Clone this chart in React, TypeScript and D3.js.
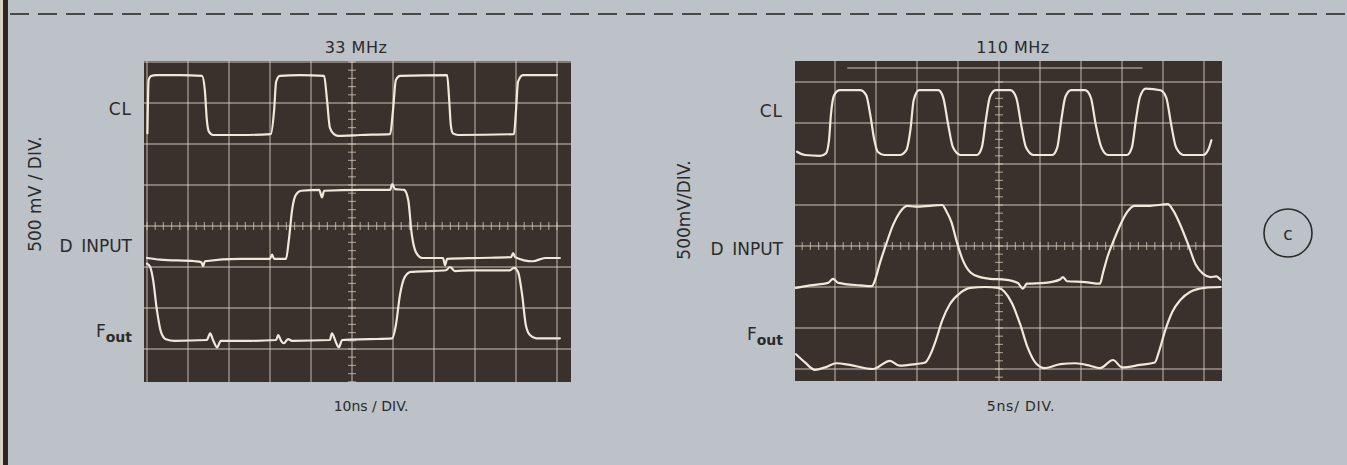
import React from "react";
import * as d3 from "d3";

// ---------- data (time in ns, level in volts about screen centre) ----------
const leftTitle = "33 MHz";
const rightTitle = "110 MHz";
const leftTimeLabel = "10ns / DIV.";
const rightTimeLabel = "5ns/ DIV.";
const leftVoltLabel = "500 mV / DIV.";
const rightVoltLabel = "500mV/DIV.";
const traceNames = ["CL", "D INPUT", "F"];

const leftCL: [number, number][] = [
  [0.1, 1.13], [0.4, 1.78], [1.0, 1.83], [2.2, 1.84], [8.0, 1.84], [13.4, 1.83],
  [14.1, 1.66], [14.6, 1.29], [15.1, 1.15], [16.1, 1.11], [22.7, 1.11], [30.2, 1.12],
  [31.0, 1.41], [31.5, 1.76], [32.4, 1.83], [37.3, 1.84], [43.2, 1.83], [43.9, 1.54],
  [44.6, 1.2], [45.6, 1.12], [46.6, 1.1], [52.0, 1.11], [59.3, 1.12], [60.0, 1.41],
  [60.7, 1.78], [61.7, 1.83], [73.2, 1.84], [73.7, 1.54], [74.1, 1.23], [74.6, 1.13],
  [75.9, 1.11], [89.5, 1.12], [90.0, 1.41], [90.5, 1.76], [91.7, 1.84], [100.0, 1.84],
];

const leftD: [number, number][] = [
  [0, -0.39], [3.2, -0.41], [11.7, -0.43], [13.2, -0.44], [13.7, -0.49], [14.1, -0.43],
  [22.7, -0.4], [30.0, -0.4], [30.5, -0.35], [31.0, -0.4], [33.9, -0.4], [34.6, -0.17],
  [35.4, 0.2], [36.3, 0.38], [37.6, 0.43], [42.0, 0.44], [42.7, 0.35], [43.2, 0.43],
  [52.0, 0.44], [59.3, 0.44], [59.8, 0.51], [60.5, 0.45], [62.7, 0.44], [63.7, 0.32],
  [64.6, -0.11], [65.6, -0.32], [67.1, -0.39], [72.2, -0.39], [72.7, -0.48], [73.2, -0.4],
  [81.2, -0.39], [88.8, -0.38], [89.3, -0.33], [89.8, -0.38], [94.1, -0.43], [97.1, -0.39],
  [100.7, -0.39],
];

const leftF: [number, number][] = [
  [0, -0.46], [0.7, -0.49], [1.5, -0.66], [2.4, -1.02], [3.4, -1.29], [4.6, -1.38],
  [6.8, -1.4], [14.6, -1.39], [15.4, -1.31], [16.1, -1.39], [17.1, -1.48], [18.0, -1.4],
  [25.1, -1.4], [31.5, -1.39], [32.0, -1.33], [32.7, -1.4], [33.4, -1.43], [34.4, -1.38],
  [35.4, -1.4], [44.6, -1.39], [45.1, -1.31], [46.1, -1.42], [46.8, -1.48], [47.6, -1.39],
  [54.4, -1.38], [59.8, -1.37], [60.7, -1.21], [61.7, -0.84], [62.9, -0.62], [64.4, -0.56],
  [69.0, -0.55], [72.9, -0.54], [73.9, -0.5], [75.1, -0.55], [78.8, -0.54], [88.5, -0.54],
  [89.5, -0.51], [90.5, -0.56], [91.5, -0.84], [92.4, -1.21], [93.4, -1.33], [94.9, -1.37],
  [100.7, -1.37],
];

const rightCL: [number, number][] = [
  [0.37, 1.15], [1.34, 1.11], [3.17, 1.1], [3.9, 1.13], [4.27, 1.29], [4.5, 1.6],
  [4.9, 1.84], [5.6, 1.9], [8.05, 1.9], [8.8, 1.84], [9.3, 1.6], [9.8, 1.29],
  [10.2, 1.15], [11.0, 1.11], [12.9, 1.11], [13.7, 1.17], [14.2, 1.42], [14.6, 1.78],
  [15.25, 1.9], [17.6, 1.9], [18.2, 1.81], [18.8, 1.48], [19.4, 1.2], [20.3, 1.11],
  [22.3, 1.11], [22.9, 1.2], [23.4, 1.54], [23.9, 1.82], [24.6, 1.9], [26.4, 1.9],
  [27.1, 1.81], [27.7, 1.48], [28.3, 1.2], [29.2, 1.11], [31.5, 1.11], [32.1, 1.2],
  [32.6, 1.54], [33.1, 1.82], [33.8, 1.9], [35.5, 1.9], [36.2, 1.81], [36.8, 1.48],
  [37.5, 1.2], [38.3, 1.11], [40.6, 1.11], [41.2, 1.2], [41.7, 1.54], [42.2, 1.82],
  [42.9, 1.92], [44.7, 1.9], [45.4, 1.81], [46.0, 1.48], [46.6, 1.2], [47.5, 1.11],
  [49.9, 1.11], [50.5, 1.17], [50.9, 1.29],
];

const rightD: [number, number][] = [
  [0.24, -0.51], [1.95, -0.48], [4.15, -0.45], [4.76, -0.4], [5.4, -0.45], [8.05, -0.48],
  [9.5, -0.49], [9.9, -0.41], [10.5, -0.2], [11.2, 0.01], [12.1, 0.26], [12.9, 0.41],
  [13.8, 0.49], [14.8, 0.48], [16.6, 0.49], [18.1, 0.5], [18.5, 0.44], [19.2, 0.29],
  [19.8, 0.07], [20.5, -0.15], [21.5, -0.32], [22.7, -0.38], [23.9, -0.4], [25.7, -0.41],
  [27.3, -0.45], [27.9, -0.52], [28.4, -0.46], [30.6, -0.45], [32.4, -0.41], [32.8, -0.38],
  [33.3, -0.43], [35.5, -0.44], [37.3, -0.46], [37.7, -0.32], [38.3, -0.11], [39.0, 0.07],
  [39.8, 0.26], [40.6, 0.41], [41.5, 0.49], [43.4, 0.49], [45.6, 0.51], [46.2, 0.44],
  [47.1, 0.26], [48.1, 0.01], [49.0, -0.23], [49.9, -0.34], [50.8, -0.38], [51.5, -0.37],
  [52.0, -0.41],
];

const rightF: [number, number][] = [
  [0.24, -1.32], [1.34, -1.42], [2.56, -1.51], [3.8, -1.48], [5.2, -1.43], [6.8, -1.45],
  [9.6, -1.5], [11.7, -1.4], [12.9, -1.46], [14.8, -1.44], [16.0, -1.42], [16.6, -1.33],
  [17.3, -1.15], [18.1, -0.9], [19.0, -0.71], [20.3, -0.57], [21.5, -0.51], [23.3, -0.5],
  [24.9, -0.51], [25.7, -0.56], [26.6, -0.7], [27.6, -0.96], [28.5, -1.24], [29.5, -1.43],
  [30.6, -1.49], [32.5, -1.44], [34.3, -1.43], [36.1, -1.46], [37.3, -1.49], [38.9, -1.39],
  [40.0, -1.48], [42.2, -1.45], [44.0, -1.42], [44.5, -1.29], [45.3, -1.02], [46.1, -0.81],
  [47.1, -0.66], [48.3, -0.56], [50.1, -0.51], [52.0, -0.5],
];

// ---------- styling ----------
const PAPER = "#bcc2c8";
const SCREEN = "#3b312c";
const GRID = "rgba(225,212,198,0.6)";
const TRACE = "#f1e8dc";
const INK = "#2b2b2b";
const FONT = "'DejaVu Sans', 'Liberation Sans', sans-serif";

type ScopeProps = {
  id: string;
  rect: { x0: number; x1: number; y0: number; y1: number };
  tMax: number;
  xRange: [number, number];
  yRange: [number, number];
  traces: [number, number][][];
  faintTop?: boolean;
};

function Scope({ id, rect, tMax, xRange, yRange, traces, faintTop }: ScopeProps) {
  const x = d3.scaleLinear().domain([0, tMax]).range(xRange);
  const y = d3.scaleLinear().domain([-2, 2]).range(yRange);
  const gen = d3
    .line<[number, number]>()
    .x((d) => x(d[0]))
    .y((d) => y(d[1]))
    .curve(d3.curveMonotoneX);
  const xDivs = d3.range(0, 11).map((k) => (tMax / 10) * k);
  const yDivs = d3.range(-2, 2.01, 0.5);
  const xMinor = d3.range(0, 51).map((k) => (tMax / 50) * k);
  const yMinor = d3.range(-2, 2.001, 0.1);
  const cx = x(tMax / 2);
  const cy = y(0);
  return (
    <g>
      <defs>
        <clipPath id={id}>
          <rect x={rect.x0} y={rect.y0} width={rect.x1 - rect.x0} height={rect.y1 - rect.y0} />
        </clipPath>
      </defs>
      <rect x={rect.x0} y={rect.y0} width={rect.x1 - rect.x0} height={rect.y1 - rect.y0} fill={SCREEN} />
      <g clipPath={`url(#${id})`}>
        {xDivs.map((t, i) => (
          <line key={"vx" + i} x1={x(t)} x2={x(t)} y1={rect.y0} y2={rect.y1} stroke={GRID} strokeWidth={1.4} />
        ))}
        {yDivs.map((v, i) => (
          <line key={"hy" + i} x1={rect.x0} x2={rect.x1} y1={y(v)} y2={y(v)} stroke={GRID} strokeWidth={1.4} />
        ))}
        {xMinor.map((t, i) => (
          <line key={"mx" + i} x1={x(t)} x2={x(t)} y1={cy - 4} y2={cy + 4} stroke={GRID} strokeWidth={1.2} />
        ))}
        {yMinor.map((v, i) => (
          <line key={"my" + i} x1={cx - 4} x2={cx + 4} y1={y(v)} y2={y(v)} stroke={GRID} strokeWidth={1.2} />
        ))}
        {faintTop && (
          <line x1={x(6.5)} x2={x(42.5)} y1={rect.y0 + 7} y2={rect.y0 + 7} stroke="rgba(225,212,198,0.45)" strokeWidth={2} />
        )}
        {traces.map((tr, i) => (
          <path key={"tr" + i} d={gen(tr) || ""} fill="none" stroke={TRACE} strokeWidth={2.2} strokeLinejoin="round" strokeLinecap="round" />
        ))}
      </g>
    </g>
  );
}

function Labels({ rightEdge, clY, dY, fY, voltX, voltY, voltLabel, dx }: any) {
  return (
    <g fill={INK} fontFamily={FONT} fontSize={17}>
      <text x={rightEdge} y={clY} textAnchor="end" dominantBaseline="central" letterSpacing={1}>
        {traceNames[0]}
      </text>
      <text x={rightEdge} y={dY} textAnchor="end" dominantBaseline="central">
        {"D\u2002" + traceNames[1].slice(2)}
      </text>
      <text x={rightEdge} y={fY} textAnchor="end" dominantBaseline="central">
        <tspan>{traceNames[2]}</tspan>
        <tspan dy={6} fontSize={14} fontWeight={600}>out</tspan>
      </text>
      <text
        transform={`translate(${voltX},${voltY}) rotate(-90)`}
        textAnchor="middle"
        dominantBaseline="central"
        fontSize={dx}
      >
        {voltLabel}
      </text>
    </g>
  );
}

export default function App() {
  return (
    <svg width={1347} height={465} style={{ position: "absolute", left: 0, top: 0 }}>
      <rect x={0} y={0} width={1347} height={465} fill={PAPER} />
      <rect x={0} y={0} width={3} height={465} fill="#d9d2c4" />
      <rect x={3} y={0} width={5} height={465} fill="#2e2520" />
      <line x1={10} x2={1347} y1={14} y2={14} stroke="#4a4a4a" strokeWidth={2} strokeDasharray="19 9" />

      <Scope
        id="clipL"
        rect={{ x0: 144, x1: 571, y0: 61, y1: 382 }}
        tMax={100}
        xRange={[147, 557]}
        yRange={[390, 62]}
        traces={[leftCL, leftD, leftF]}
      />
      <Scope
        id="clipR"
        rect={{ x0: 795, x1: 1222, y0: 61, y1: 381 }}
        tMax={50}
        xRange={[794, 1204]}
        yRange={[410, 82]}
        traces={[rightCL, rightD, rightF]}
        faintTop
      />

      <g fill={INK} fontFamily={FONT} fontSize={16}>
        <text x={356} y={47} textAnchor="middle" dominantBaseline="central" letterSpacing={0.5}>{leftTitle}</text>
        <text x={1013} y={47} textAnchor="middle" dominantBaseline="central" letterSpacing={0.5}>{rightTitle}</text>
        <text x={371} y={406} textAnchor="middle" dominantBaseline="central" fontSize={14}>{leftTimeLabel}</text>
        <text x={1021} y={406} textAnchor="middle" dominantBaseline="central" fontSize={14} letterSpacing={0.8}>{rightTimeLabel}</text>
      </g>

      <Labels rightEdge={132} clY={109} dY={246} fY={331} voltX={35} voltY={194} voltLabel={leftVoltLabel} dx={17} />
      <Labels rightEdge={783} clY={111} dY={249} fY={334} voltX={684} voltY={210} voltLabel={rightVoltLabel} dx={17} />

      <circle cx={1288} cy={233} r={24} fill="none" stroke={INK} strokeWidth={1.6} />
      <text x={1288} y={234} textAnchor="middle" dominantBaseline="central" fill={INK} fontFamily={FONT} fontSize={17}>c</text>
    </svg>
  );
}
